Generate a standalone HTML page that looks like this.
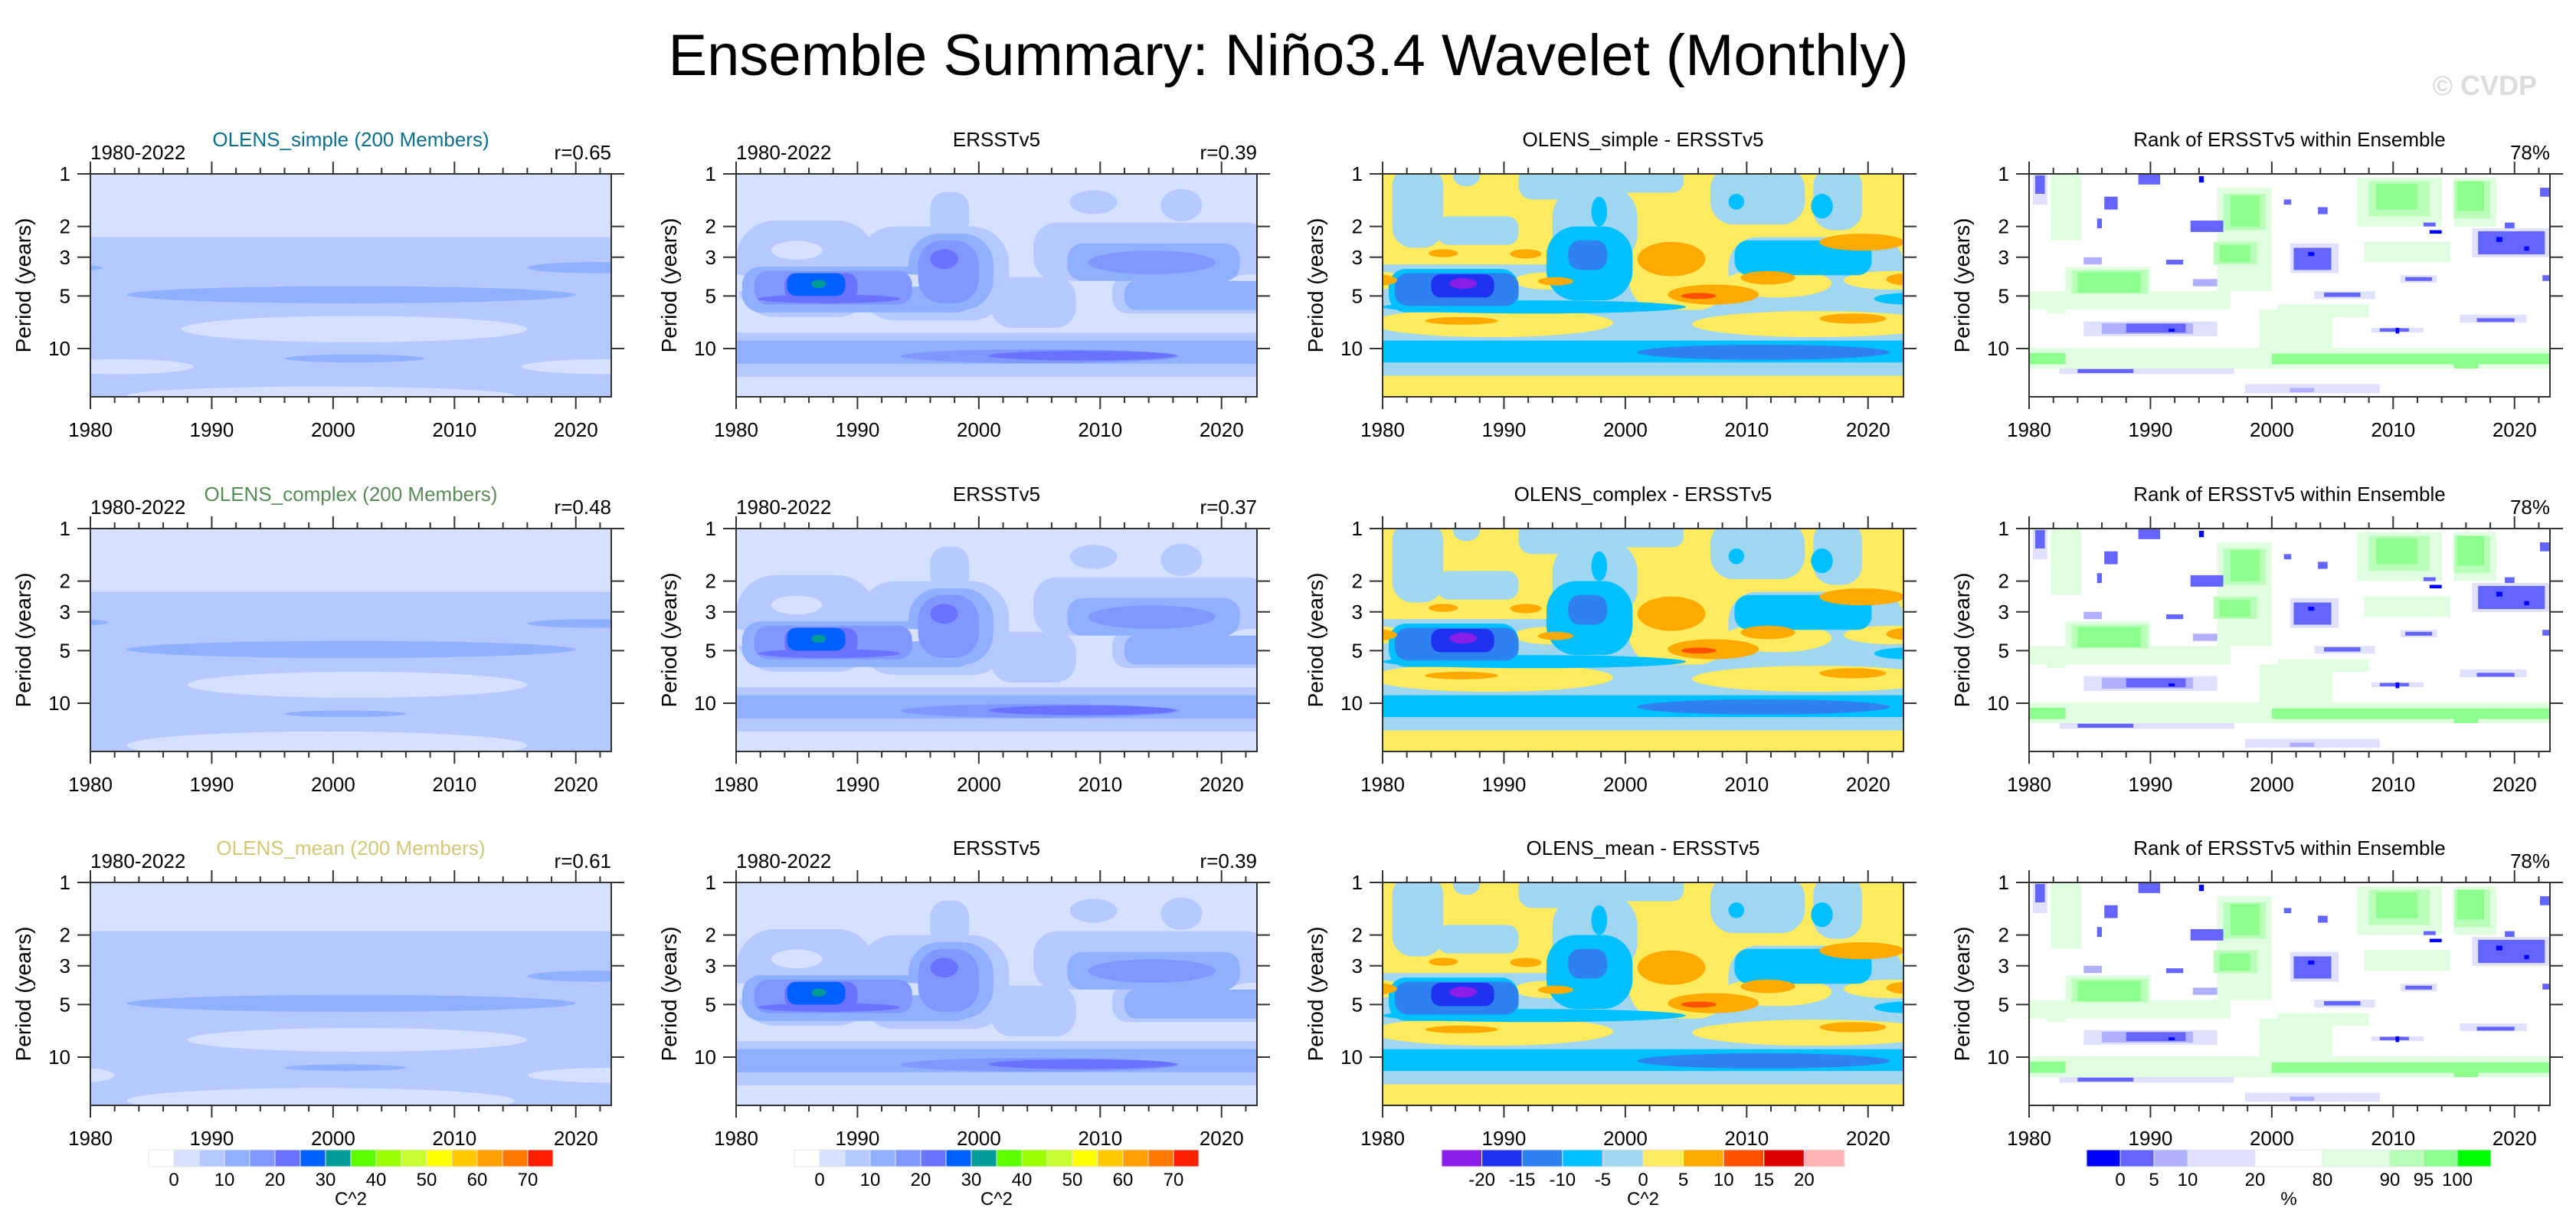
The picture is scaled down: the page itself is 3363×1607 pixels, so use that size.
<!DOCTYPE html>
<html><head><meta charset="utf-8"><title>Ensemble Summary: Niño3.4 Wavelet (Monthly)</title>
<style>
html,body{margin:0;padding:0;background:#fff;}
svg{display:block;font-family:"Liberation Sans",Arial,sans-serif;}
</style></head>
<body>
<svg id="fig" width="3363" height="1607" viewBox="0 0 3363 1607" xmlns="http://www.w3.org/2000/svg">
<text x="1682" y="98" font-size="76" text-anchor="middle" fill="#000">Ensemble Summary: Niño3.4 Wavelet (Monthly)</text>
<text x="3312" y="124" font-size="36" font-weight="bold" text-anchor="end" fill="#dcdcdc">© CVDP</text>
</svg>
<script>
// ---------- data ----------
const yearTicks = [1980,1990,2000,2010,2020];
const periodTicks = [1,2,3,5,10];
const powerColors = ['#ffffff','#d6e0ff','#b5c8ff','#8fb0ff','#7f97ff','#6a72ff','#0060ff','#009b96','#5cff00','#9bff00','#c8ff32','#ffff00','#ffc800','#ffa000','#ff7800','#ff1e00'];
const powerLabels = ['0','10','20','30','40','50','60','70'];
const diffColors = ['#8a1ee6','#1e32f0','#2d82f0','#00c0ff','#a0d6f0','#ffeb5f','#ffaa00','#ff5000','#dc0000','#ffb4b4'];
const diffLabels = ['-20','-15','-10','-5','0','5','10','15','20'];
const rankColors = ['#0000ff','#6464ff','#b0b0ff','#e0e0ff','#ffffff','#e0ffe0','#b9ffb9','#8cff8c','#00ff00'];
const rankLabels = ['0','5','10','20','80','90','95','100'];
const rankBounds = [0,1,2,3,5,7,9,10,11,12];

const modelNames = ['OLENS_simple','OLENS_complex','OLENS_mean'];
const modelColors = ['#0a6e8c','#5a8a5a','#d2c878'];
const modelR = ['r=0.65','r=0.48','r=0.61'];
const obsR = ['r=0.39','r=0.37','r=0.39'];
const rankPct = ['78%','78%','78%'];

// blobs: [yearStart, yearEnd, periodTop, periodBottom, level, shape]
const simpleField = [
[1980,2023,2.3,21,2,'r'],[1987.5,2016,6.5,9.2,1,'e'],[1976,1988.5,11.5,14,1,'e'],[2015.5,2030,11.5,14,1,'e'],
[1983,2015,16.5,21,1,'e'],[1983,2020,4.4,5.5,3,'e'],[1996,2007.5,10.8,12,3,'e'],[2016,2027,3.2,3.7,3,'e'],[1975,1981,3.3,3.6,3,'e']];
const complexField = [
[1980,2023,2.3,21,2,'r'],[1988,2016,6.6,9.3,1,'e'],[1983,2016,14.5,21,1,'e'],[1983,2020,4.4,5.5,3,'e'],
[1996,2006,11,12,3,'e'],[2016,2027,3.3,3.7,3,'e'],[1975,1981.5,3.3,3.6,3,'e']];
const meanField = [
[1980,2023,1.9,21,2,'r'],[1988,2016,6.8,9.3,1,'e'],[1983,2015,15,21,1,'e'],[1983,2020,4.4,5.5,3,'e'],
[1996,2006,11,12,3,'e'],[2016,2027,3.2,3.7,3,'e'],[1976,1982,11.5,14,1,'e'],[2016,2030,11.5,14,1,'e']];
const ersstField = [
[1980,1991.5,1.85,6.6,2,'q'],[1990,2002.5,2.0,6.9,2,'q'],[1996,1999.2,1.27,2.3,2,'q'],[2001,2008,3.9,7.6,2,'q'],
[2004.5,2024,1.9,4.1,2,'q'],[2011,2024,3.8,6.3,2,'q'],[2007.5,2011.4,1.24,1.7,2,'e'],[2015,2018.4,1.22,1.87,2,'e'],
[1980,2023,8.1,14.5,2,'r'],
[1982.9,1987.1,2.42,3.1,1,'e'],[1990.8,1996.6,3.65,4.55,1,'e'],[2020.5,2025,3.75,4.75,1,'e'],[1978,1981.5,3.75,4.75,1,'e'],
[1980,2023,9.0,12.2,3,'r'],[1980.5,1999.7,3.4,6.2,3,'q'],[1994.2,2001.2,2.2,6.0,3,'q'],[2007.3,2021.5,2.5,4.1,3,'q'],[2012,2024,4.1,6.0,3,'q'],
[1990.8,1996.6,3.75,4.45,1,'e'],
[1993.5,2016.5,10.1,12.1,4,'e'],[1981.5,1994.5,3.6,5.6,4,'q'],[1995,2000,2.4,5.5,4,'q'],[2009,2019.5,2.75,3.75,4,'e'],
[2000.8,2016.3,10.3,11.7,5,'e'],[1981.8,1993.5,4.9,5.5,5,'e'],[1984,1990,3.7,5.3,5,'q'],[1996,1998.3,2.7,3.5,5,'e'],
[1984.2,1989,3.7,5.0,6,'q'],[1986.2,1987.4,4.05,4.5,7,'e']];
const diffField = [
[1980,2023,3.3,14.3,4,'r'],[1980.8,1985,0.9,2.65,4,'q'],[1984.5,1991.2,1.75,2.55,4,'q'],[1985.8,1988,0.9,1.18,4,'e'],
[1991.2,1998.5,0.9,1.4,4,'q'],[1994,2001,1.15,3.4,4,'q'],[1998.3,2004.8,0.9,1.28,4,'q'],[2007,2014.8,0.9,1.95,4,'q'],
[2015.5,2019.5,0.9,2.1,4,'q'],[2008.5,2023,2.3,6.0,4,'q'],
[1979,1999,5.9,8.6,5,'e'],[2005.5,2026,6.1,8.6,5,'e'],[2000.3,2008.5,2.2,6.0,5,'q'],[2008,2017,3.5,5.1,5,'e'],
[1990.8,1996.8,3.65,4.6,5,'e'],[2018,2026,3.6,4.6,5,'e'],[1976,1982,3.6,4.6,5,'e'],
[1980,2023,9.0,12.0,3,'r'],[1980,2005,5.3,6.3,3,'e'],[1980.5,1991.2,3.5,6.2,3,'q'],[1993.5,2000.6,2.0,5.3,3,'q'],
[2009,2020.3,2.4,3.8,3,'q'],[2008.5,2009.8,1.3,1.6,3,'e'],[2015.3,2017.1,1.3,1.8,3,'e'],[1997.2,1998.5,1.35,2.0,3,'e'],[2020.5,2026,4.8,5.6,3,'e'],
[2001,2021.8,9.5,11.6,2,'e'],[1995.3,1998.5,2.4,3.55,2,'q'],[1981,1991.2,3.7,5.7,2,'q'],
[1984,1989.2,3.75,5.1,1,'q'],[1985.5,1987.8,3.95,4.55,0,'e'],
[1983.8,1986.2,2.7,3.0,6,'e'],[1990.5,1993.1,2.7,3.05,6,'e'],[1992.8,1995.7,3.9,4.35,6,'e'],[2001,2006.6,2.45,3.85,6,'e'],
[2009.5,2014,3.6,4.3,6,'e'],[2003.5,2011,4.3,5.6,6,'e'],[2016,2023,2.2,2.75,6,'e'],[2021.5,2025,3.7,4.35,6,'e'],
[1977,1981.2,3.75,4.4,6,'e'],[1983.5,1989.5,6.6,7.3,6,'e'],[2016,2021.5,6.3,7.2,6,'e'],[2004.6,2007.5,4.8,5.2,7,'e']];
const rankField = [
[1980,2023,9.9,13.0,5,'r'],[2000,2023,10.7,12.3,7,'r'],[1980,1983,10.6,12.3,7,'r'],[2015,2017,12,13,7,'r'],
[1980,1996.6,4.7,6.0,5,'r'],[1981.5,1983,5.9,6.3,5,'r'],[1983,1990,3.4,5.0,5,'r'],[1983.5,1989.8,3.55,4.85,6,'r'],[1984,1989.2,3.66,4.78,7,'r'],
[1995.5,2000,1.2,4.7,5,'r'],[1996,1999.5,1.3,2.1,6,'r'],[1996.6,1999,1.33,2.0,7,'r'],[1995.2,1998.8,2.45,3.3,6,'r'],[1995.7,1998.2,2.56,3.2,7,'r'],
[1999,2005,6.0,9.9,5,'r'],[2000.5,2008,5.6,6.6,5,'r'],[2007,2014,1.05,2.0,5,'r'],[2008,2013,1.1,1.75,6,'r'],[2008.6,2012,1.14,1.6,7,'r'],
[2015,2018.5,1.05,2.0,5,'r'],[2015,2018,1.1,1.8,6,'r'],[2015.3,2017.5,1.1,1.63,7,'r'],[2007.6,2014.7,2.44,3.2,5,'r'],
[1981.8,1984.3,1.0,2.4,5,'r'],
[2016.5,2023,2.05,3.0,3,'r'],[2017,2022.5,2.13,2.89,1,'r'],[2018.5,2019,2.3,2.45,0,'r'],[2020.8,2021.2,2.6,2.75,0,'r'],
[2001.5,2005.5,2.5,3.7,3,'r'],[2001.8,2004.9,2.65,3.55,1,'r'],[2003,2003.5,2.8,2.95,0,'r'],
[1984.5,1995.5,7.0,8.5,3,'r'],[1986,1993.5,7.15,8.25,2,'r'],[1988,1992.9,7.2,8.1,1,'r'],[1991.5,1992,7.7,8.0,0,'r'],
[1982.5,1996.9,13.0,14.0,3,'r'],[1984,1988.6,13.1,13.8,1,'r'],[1997.8,2008.9,16,18,3,'r'],[2001.5,2003.5,16.8,17.8,2,'r'],
[2003.5,2008.5,4.7,5.2,3,'r'],[2004.3,2007.3,4.78,5.06,1,'r'],[2015.5,2021,6.4,7.1,3,'r'],[2016.9,2020,6.7,7.05,1,'r'],
[2008.2,2012.5,7.6,8.1,3,'r'],[2008.9,2011.3,7.65,8.0,1,'r'],[2010.2,2010.5,7.6,8.2,0,'r'],[2010.6,2013.6,3.8,4.2,3,'r'],[2011,2013.2,3.9,4.1,1,'r'],
[1980.3,1981.5,1.0,1.5,3,'r'],[1980.5,1981.3,1.02,1.3,1,'r'],[1989,1990.8,1.0,1.15,1,'r'],[1986.2,1987.3,1.35,1.6,1,'r'],
[1985.6,1986,1.8,2.05,1,'r'],[1993.3,1996,1.85,2.15,1,'r'],[1994,1994.4,1.03,1.12,0,'r'],[2012.5,2013.5,1.9,2.0,1,'r'],
[2013,2014,2.1,2.2,0,'r'],[2019.2,2020,1.9,2.05,1,'r'],[2022.1,2023,1.2,1.35,1,'r'],[2022.3,2023,3.8,4.1,1,'r'],
[2001,2001.6,1.4,1.5,1,'r'],[2003.8,2004.6,1.55,1.7,1,'r'],[1984.5,1986,3.0,3.3,2,'r'],[1991.3,1992.7,3.1,3.3,1,'r'],[1993.5,1995.5,4.0,4.4,2,'r']];

// ---------- layout / axes ----------
const NS='http://www.w3.org/2000/svg';
const svg=document.getElementById('fig');
const colLeft=[118,961,1805,2649], rowTop=[227,690,1152];
const PW=680, PH=291, X0=1980, XSPAN=42.92, DEC=1.276;
function xs(year,c){return colLeft[c]+(year-X0)/XSPAN*PW;}
function ys(p,r){return rowTop[r]+Math.log10(p)/DEC*PH;}
function mk(tag,attrs,parent){const e=document.createElementNS(NS,tag);for(const k in attrs)e.setAttribute(k,attrs[k]);(parent||svg).appendChild(e);return e;}

const colFields=[[simpleField,complexField,meanField],[ersstField,ersstField,ersstField],[diffField,diffField,diffField],[rankField,rankField,rankField]];
const colPalettes=[powerColors,powerColors,diffColors,rankColors];
const colBg=['#d6e0ff','#d6e0ff','#ffeb5f','#ffffff'];

for(let r=0;r<3;r++){
 for(let c=0;c<4;c++){
  const L=colLeft[c], T=rowTop[r];
  const g=mk('g',{});
  
  
  const cp=mk('clipPath',{id:'cp'+r+c},g);
  mk('rect',{x:L,y:T,width:PW,height:PH},cp);
  const fg=mk('g',{'clip-path':'url(#cp'+r+c+')'},g);
  const bg=mk('rect',{x:L,y:T,width:PW,height:PH,fill:colBg[c]},fg);
  
  
  const pal=colPalettes[c];
  colFields[c][r].forEach(b=>{
   const x1=xs(b[0],c),x2=xs(b[1],c),y1=ys(b[2],r),y2=ys(b[3],r);
   const w=x2-x1,h=y2-y1;let el;
   if(b[5]==='e'){el=mk('ellipse',{cx:(x1+x2)/2,cy:(y1+y2)/2,rx:w/2,ry:h/2,fill:pal[b[4]]},fg);}
   else if(b[5]==='q'){const rr=Math.min(w,h)*0.4;el=mk('rect',{x:x1,y:y1,width:w,height:h,rx:rr,ry:rr,fill:pal[b[4]]},fg);}
   else{el=mk('rect',{x:x1,y:y1,width:w,height:h,fill:pal[b[4]]},fg);}
   
   
  });
  const fr=mk('rect',{x:L,y:T,width:PW,height:PH,fill:'none',stroke:'#333','stroke-width':2},g);
  
  
  for(let yr=1980;yr<=2022;yr+=2){
   const x=xs(yr,c), len=(yr%10===0)?16:8;
   mk('line',{x1:x,y1:T+PH,x2:x,y2:T+PH+len,stroke:'#333','stroke-width':2},g);
   mk('line',{x1:x,y1:T,x2:x,y2:T-len,stroke:'#333','stroke-width':2},g);
  }
  yearTicks.forEach(yr=>{
   const t=mk('text',{x:xs(yr,c),y:T+PH+52,'font-size':26,'text-anchor':'middle'},g);
   t.textContent=yr;
   
   
  });
  periodTicks.forEach(p=>{
   const y=ys(p,r);
   mk('line',{x1:L-17,y1:y,x2:L,y2:y,stroke:'#333','stroke-width':2},g);
   mk('line',{x1:L+PW,y1:y,x2:L+PW+17,y2:y,stroke:'#333','stroke-width':2},g);
   const t=mk('text',{x:L-26,y:y+9,'font-size':26,'text-anchor':'end'},g);
   t.textContent=p;
   
   
  });
  const yl=mk('text',{x:0,y:0,'font-size':28,'text-anchor':'middle',transform:'translate('+(L-78)+','+(T+PH/2)+') rotate(-90)'},g);
  yl.textContent='Period (years)';
  
  
  let center,left='',right='',ccol='#000';
  if(c===0){center=modelNames[r]+' (200 Members)';left='1980-2022';right=modelR[r];ccol=modelColors[r];}
  else if(c===1){center='ERSSTv5';left='1980-2022';right=obsR[r];}
  else if(c===2){center=modelNames[r]+' - ERSSTv5';}
  else{center='Rank of ERSSTv5 within Ensemble';right=rankPct[r];}
  const ct=mk('text',{x:L+PW/2,y:T-36,'font-size':26,'text-anchor':'middle',fill:ccol},g);
  ct.textContent=center;
  
  
  if(left){const lt=mk('text',{x:L,y:T-19,'font-size':26},g);lt.textContent=left;
   
   }
  if(right){const rt=mk('text',{x:L+PW,y:T-19,'font-size':26,'text-anchor':'end'},g);rt.textContent=right;
   
   }
 }
}

// ---------- colorbars ----------
function colorbar(x0,x1,colors,edges,labels,labelEdges,unit,name){
 const g=mk('g',{});
 
 
 const maxE=edges[edges.length-1];
 const px=e=>x0+e/maxE*(x1-x0);
 colors.forEach((col,i)=>{
  const rc=mk('rect',{x:px(edges[i]),y:1501,width:px(edges[i+1])-px(edges[i]),height:22,fill:col,stroke:'#e6e6e6','stroke-width':1},g);
  
  
 });
 labels.forEach((lb,i)=>{
  const t=mk('text',{x:px(labelEdges[i]),y:1548,'font-size':24,'text-anchor':'middle'},g);
  t.textContent=lb;
  
  
 });
 const u=mk('text',{x:(x0+x1)/2,y:1573,'font-size':24,'text-anchor':'middle'},g);
 u.textContent=unit;
 
 
}
const pEdges=powerColors.map((_,i)=>i).concat([powerColors.length]);
const pLab=powerLabels.map((_,i)=>1+2*i);
colorbar(194,722,powerColors,pEdges,powerLabels,pLab,'C^2','colorbar-power-model');
colorbar(1037,1565,powerColors,pEdges,powerLabels,pLab,'C^2','colorbar-power-obs');
const dEdges=diffColors.map((_,i)=>i).concat([diffColors.length]);
colorbar(1882,2408,diffColors,dEdges,diffLabels,diffLabels.map((_,i)=>i+1),'C^2','colorbar-difference');
colorbar(2724,3252,rankColors,rankBounds,rankLabels,rankBounds.slice(1,9),'%','colorbar-rank');
</script>
</body></html>
